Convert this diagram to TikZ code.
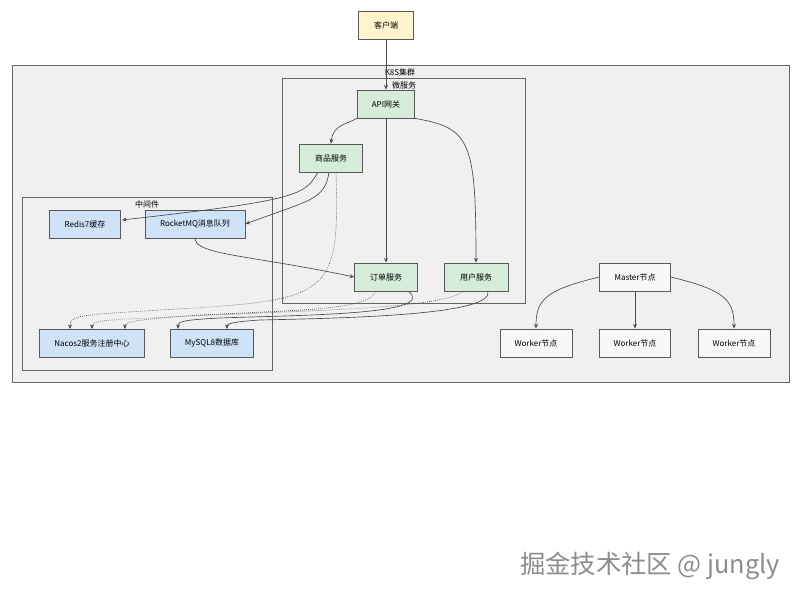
\documentclass[tikz,border=0pt]{standalone}
\usepackage{fontspec}
\setmainfont{Noto Sans CJK SC}
\usetikzlibrary{arrows.meta}
\begin{document}
\begin{tikzpicture}[x=0.75pt,y=-0.75pt,font=\fontsize{6}{7}\selectfont,
 box/.style={draw=black!65,line width=0.6pt,minimum height=21pt,inner sep=0pt},
 svc/.style={box,fill=green!12!white!90!gray!15,fill={rgb,255:red,213;green,236;blue,217}},
 mid/.style={box,fill={rgb,255:red,207;green,227;blue,248}},
 wk/.style={box,fill=white!97!black},
 grp/.style={draw=black!60,line width=0.6pt,fill={rgb,255:red,240;green,240;blue,240}},
 e/.style={draw=black!70,line width=0.5pt,-{Stealth[length=3.5pt,width=3pt]}},
 d/.style={e,densely dotted}]
\useasboundingbox (0,0) rectangle (800,600);
\fill[white] (0,0) rectangle (800,600);
\draw[grp] (12,65) rectangle (789,382);
\node (k8s) at (400,72) {K8S集群};
\draw[grp] (282,78) rectangle (525,303);
\node (ms) at (404,85) {微服务};
\draw[grp] (22,197) rectangle (272,370);
\node (mw) at (147,204) {中间件};
\node[box,fill={rgb,255:red,255;green,244;blue,204},minimum width=41pt] (cl) at (386,25) {客户端};
\node[svc,minimum width=43pt] (api) at (386,104) {API网关};
\node[svc,minimum width=47pt] (sp) at (331,158) {商品服务};
\node[svc,minimum width=47pt] (od) at (386,277) {订单服务};
\node[svc,minimum width=48pt] (us) at (476,277) {用户服务};
\node[mid,minimum width=53pt] (rd) at (85,224) {Redis7缓存};
\node[mid,minimum width=75pt] (mq) at (195,224) {RocketMQ消息队列};
\node[mid,minimum width=79pt] (nc) at (92,343) {Nacos2服务注册中心};
\node[mid,minimum width=62pt] (my) at (212,343) {MySQL8数据库};
\node[wk,minimum width=53pt] (ma) at (635,277) {Master节点};
\node[wk,minimum width=54pt] (w1) at (536,343) {Worker节点};
\node[wk,minimum width=53pt] (w2) at (635,343) {Worker节点};
\node[wk,minimum width=54pt] (w3) at (734,343) {Worker节点};
\draw[e] (cl) -- (api);
\draw[e] (api.south west) .. controls (345,125) and (333,125) .. (sp.north);
\draw[e] (api) -- (od);
\draw[e] (api.south east) .. controls (470,128) and (476,140) .. (us.north);
\draw[e] (318,172) .. controls (305,195) and (300,200) .. (122,220);
\draw[e] (329,172) .. controls (325,200) and (310,200) .. (mq.east);
\draw[e] (195,238) .. controls (195,255) and (250,255) .. (od.west);
\draw[d] (336,172) .. controls (340,300) and (330,300) .. (160,310) .. controls (80,315) and (70,315) .. (70,329);
\draw[d] (376,291) .. controls (370,310) and (300,310) .. (200,315) .. controls (130,320) and (125,322) .. (125,329);
\draw[d] (464,291) .. controls (440,310) and (300,310) .. (150,318) .. controls (95,320) and (92,322) .. (92,329);
\draw[e] (408,291) .. controls (440,315) and (300,315) .. (220,318) .. controls (180,320) and (178,322) .. (178,329);
\draw[e] (488,291) .. controls (495,315) and (350,318) .. (260,320) .. controls (230,322) and (227,324) .. (227,329);
\draw[e] (ma.west) .. controls (545,290) and (536,300) .. (w1.north);
\draw[e] (ma) -- (w2);
\draw[e] (ma.east) .. controls (725,290) and (734,300) .. (w3.north);
\node[font=\fontsize{19}{22}\selectfont,text=black!45] (wm) at (650,566) {掘金技术社区 @ jungly};
\end{tikzpicture}
\end{document}
